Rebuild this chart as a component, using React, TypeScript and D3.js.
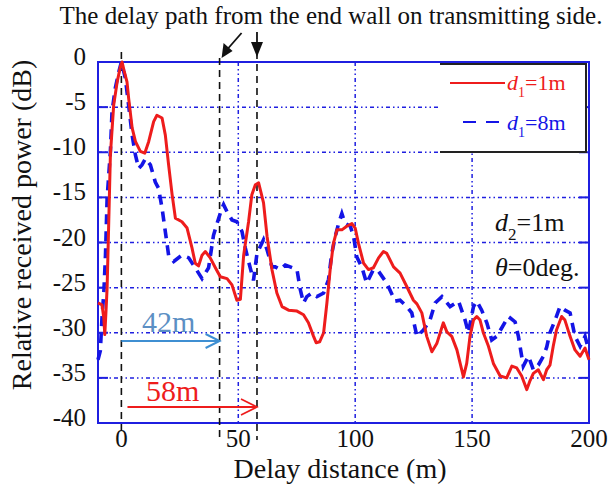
import React from "react";
import * as d3 from "d3";

// Delay profile, d1 = 1 m (delay distance in m, relative power in dB)
const delayD1: number[] = [
  -10, -8.3, -7.5, -7.1, -6.5, -6.1, -5.4, -4.7, -3.3, -1.8, -0.4, 0.3, 1.2, 2.4, 3.1, 4.6, 6, 8.1, 10,
  11.7, 13.8, 15.2, 17.4, 18.8, 20.2, 21.7, 23.1, 25.9, 28.1, 30.2, 31.6, 33, 34.5, 35.9, 38, 40.2,
  42.3, 45.2, 47.3, 49.4, 50.9, 52.3, 54.4, 55.8, 57.3, 58.7, 60.8, 62.3, 64.4, 66.5, 68.7, 71.5,
  75.1, 77.9, 80, 82.2, 83.3, 84.8, 86.5, 87.9, 89.3, 90.7, 92.2, 94.3, 96.4, 98.6, 100, 101.4,
  103.6, 105.7, 107.8, 110, 112.1, 113.5, 116.4, 119.2, 122.1, 124.9, 126.4, 128.5, 130.6, 132.8,
  134.9, 137.7, 139.2, 141.3, 143.5, 146.3, 147.7, 149.1, 150.6, 152, 153.4, 154.8, 157, 159.1,
  162, 164.8, 167, 169.1, 171.2, 173.4, 174.8, 176.2, 178.3, 180.5, 181.9, 183.3, 184.7, 186.1,
  188.3, 189.7, 191.9, 194, 196.2, 198.3, 200,
];
const powerD1: number[] = [
  -26.7, -26.9, -28.4, -30.2, -27.2, -25, -17.7, -10.3, -4.8, -2.2, -0.5, 0, -1, -2.2, -4, -7.3, -8.8,
  -9.9, -10.1, -8.8, -6.6, -5.9, -6.2, -8.1, -11.4, -14.7, -17.3, -17.7, -18.4, -20.6, -22.3, -22.6,
  -21.4, -21, -21.7, -22.8, -23.8, -24, -24.7, -26.4, -26.3, -21.4, -17.7, -14.7, -13.6, -13.4,
  -15.6, -19.3, -23, -25.6, -27.1, -27.5, -27.6, -28, -28.9, -30.4, -31.1, -31, -30, -26.7, -23,
  -20.1, -18.6, -18.6, -18.2, -17.9, -18.4, -20.1, -22.3, -23, -22.8, -21.7, -21, -21.2, -22.7,
  -23.4, -24.9, -26.4, -26.8, -27.8, -30.4, -32.1, -31.2, -28.9, -29.9, -30.4, -31.9, -34.9, -33.4,
  -30.4, -28.6, -28.2, -28.6, -30, -31.5, -33.4, -34.8, -35, -33.7, -33.9, -34.8, -36.3, -35.3,
  -34.5, -34.1, -35.2, -34.1, -33.6, -31.5, -29.7, -28.2, -28.6, -30.4, -31.9, -32.6, -31.7, -33,
];

// Delay profile, d1 = 8 m
const delayD8: number[] = [
  -10, -9, -8.3, -7.5, -6.8, -6.1, -4.7, -4, -2.6, -1.1, 0, 1.7, 3.1, 4.6, 6, 7.4, 8.8, 10.3, 12.4,
  14.5, 15.9, 17.4, 18.8, 20.2, 22.4, 25.9, 28.8, 31.6, 34.5, 37.3, 39.4, 40.9, 43, 43.7, 45.2,
  47.3, 49.4, 51.6, 53, 54.4, 56.5, 58, 60.8, 62.3, 64.4, 65.8, 68, 70.1, 72.2, 75.1, 76.5, 77.9,
  79.3, 81.5, 83.6, 86.5, 88.6, 90, 91.5, 92.9, 94.3, 95.7, 97.9, 99.3, 100.7, 102.8, 104.9, 107.8,
  110, 113.5, 117.1, 119.2, 122.1, 124.2, 126.4, 129.2, 132, 134.2, 137.1, 140.6, 144.2, 147,
  148.4, 150.6, 152, 154.1, 156.3, 158.4, 160.5, 162.6, 165.5, 168.4, 169.8, 171.9, 174.1, 176.2,
  178.3, 180.5, 181.9, 183.3, 185.5, 187.6, 189.7, 191.9, 194, 196.2, 198.3, 200,
];
const powerD8: number[] = [
  -33, -32, -28.4, -25.5, -21.4, -15.1, -9.9, -5.5, -2.9, -1.1, 0, -1.8, -4.8, -8.1, -10.3, -11.8,
  -11.4, -10.7, -11.4, -13.3, -14, -16.2, -18.8, -21.4, -22.1, -21.4, -21.7, -22.8, -24, -22.8,
  -19.2, -17.9, -16.2, -15.8, -16.6, -17.5, -17.7, -18.8, -20.6, -22.1, -24.2, -21.2, -19.7, -20.8,
  -22.7, -22.7, -23, -22.5, -22.7, -23, -25.2, -26.7, -26, -25.6, -26, -25.6, -24.1, -21.2, -19.3,
  -17.9, -16.8, -17.9, -18.2, -19.3, -21.6, -22.7, -24.5, -23, -23.2, -24.5, -26.5, -26.4, -27.1,
  -27.8, -30.4, -29.7, -28.6, -26.7, -26, -27.1, -26.5, -28.6, -30, -27.1, -26.5, -27.5, -28.9,
  -30.8, -30.4, -29.5, -28.2, -28.8, -30.4, -33.7, -32.6, -34.1, -33.6, -32.6, -31.6, -30, -28.6,
  -27.1, -27.5, -27.8, -30.4, -31.5, -30.4, -32,
];

const xTicks: number[] = [0, 50, 100, 150, 200];
const yTicks: number[] = [0, -5, -10, -15, -20, -25, -30, -35, -40];
const xGrid: number[] = [50, 100, 150];
const yGrid: number[] = [-5, -10, -15, -20, -25, -30, -35];
const wallPaths: number[] = [42, 58];

const W = 610;
const H = 491;
const plot = { left: 98, right: 589, top: 62, bottom: 423 };

const FRAME = "#1f1fe0";
const RED = "#ee1c1c";
const BLUE = "#1414e6";
const SKY = "#3f8fd2";
const SERIF = "Liberation Serif, Times New Roman, serif";
const font = { fontFamily: SERIF };

export default function App() {
  const x = d3.scaleLinear().domain([-10, 200]).range([plot.left, plot.right]);
  const y = d3.scaleLinear().domain([-40, 0]).range([plot.bottom, plot.top]);

  const toPts = (xs: number[], ys: number[]) => xs.map((v, i) => [v, ys[i]] as [number, number]);
  const line = d3
    .line<[number, number]>()
    .x((d) => x(d[0]))
    .y((d) => y(d[1]));

  const pathD1 = line(toPts(delayD1, powerD1)) || "";
  const pathD8 = line(toPts(delayD8, powerD8)) || "";

  const gridDash = "4 3 1.5 3 1.5 3";

  const x0 = x(0);
  const x42 = x(wallPaths[0]);
  const x58 = x(wallPaths[1]);

  const legend = { left: 440, right: 586, top: 64, bottom: 152 };

  return (
    <svg
      width={W}
      height={H}
      style={{ position: "absolute", left: 0, top: 0, background: "#fff", fontFamily: SERIF }}
    >
      <rect x={0} y={0} width={W} height={H} fill="#fff" />

      {/* grid */}
      {yGrid.map((v) => (
        <line
          key={"gy" + v}
          x1={plot.left}
          x2={plot.right}
          y1={y(v)}
          y2={y(v)}
          stroke={FRAME}
          strokeWidth={1.5}
          strokeDasharray={gridDash}
        />
      ))}
      {xGrid.map((v) => (
        <line
          key={"gx" + v}
          x1={x(v)}
          x2={x(v)}
          y1={plot.top}
          y2={plot.bottom}
          stroke={FRAME}
          strokeWidth={1.5}
          strokeDasharray={gridDash}
        />
      ))}

      {/* inward ticks on both sides */}
      {yGrid.map((v) => (
        <g key={"t" + v}>
          <line x1={plot.left} x2={plot.left + 10} y1={y(v)} y2={y(v)} stroke={FRAME} strokeWidth={2} />
          <line x1={plot.right - 10} x2={plot.right} y1={y(v)} y2={y(v)} stroke={FRAME} strokeWidth={2} />
        </g>
      ))}

      {/* frame */}
      <rect
        x={plot.left}
        y={plot.top}
        width={plot.right - plot.left}
        height={plot.bottom - plot.top}
        fill="none"
        stroke={FRAME}
        strokeWidth={2}
      />

      {/* delay markers */}
      <line x1={x0} x2={x0} y1={52} y2={432} stroke="#111" strokeWidth={1.6} strokeDasharray="7 5" />
      <line x1={x42} x2={x42} y1={58} y2={440} stroke="#111" strokeWidth={1.6} strokeDasharray="7 5" />
      <line x1={x58} x2={x58} y1={52} y2={440} stroke="#111" strokeWidth={1.6} strokeDasharray="7 5" />

      {/* curves */}
      <path d={pathD8} fill="none" stroke={BLUE} strokeWidth={3.6} strokeDasharray="10 7" />
      <path d={pathD1} fill="none" stroke={RED} strokeWidth={3} strokeLinejoin="round" />

      {/* legend */}
      <rect
        x={legend.left}
        y={legend.top}
        width={legend.right - legend.left}
        height={legend.bottom - legend.top}
        fill="#fff"
      />
      <path
        d={`M${legend.left},${legend.top}H${legend.right}V${legend.bottom}H${legend.left}`}
        fill="none"
        stroke="#222"
        strokeWidth={2}
      />
      <line x1={plot.right} x2={plot.right} y1={plot.top} y2={legend.bottom + 4} stroke={FRAME} strokeWidth={2} />
      <line x1={450} x2={505} y1={83} y2={83} stroke={RED} strokeWidth={2} />
      <line x1={463} x2={502} y1={122} y2={122} stroke={BLUE} strokeWidth={2.2} strokeDasharray="13 10" />
      <text x={507} y={90} fontSize={22} fill={RED} style={font}>
        <tspan fontStyle="italic">d</tspan>
        <tspan fontSize={14} dy={7}>1</tspan>
        <tspan dy={-7}>=1m</tspan>
      </text>
      <text x={507} y={130} fontSize={22} fill={BLUE} style={font}>
        <tspan fontStyle="italic">d</tspan>
        <tspan fontSize={14} dy={7}>1</tspan>
        <tspan dy={-7}>=8m</tspan>
      </text>

      {/* condition labels */}
      <text x={495} y={231} fontSize={26} fill="#111" style={font}>
        <tspan fontStyle="italic">d</tspan>
        <tspan fontSize={17} dy={9}>2</tspan>
        <tspan dy={-9}>=1m</tspan>
      </text>
      <text x={495} y={276} fontSize={26} fill="#111" style={font}>
        <tspan fontStyle="italic">θ</tspan>
        <tspan>=0deg.</tspan>
      </text>

      {/* path length arrows */}
      <line x1={x0} x2={x42} y1={341} y2={341} stroke={SKY} strokeWidth={2} />
      <path
        d={`M${x42 - 14},${334}L${x42},${341}L${x42 - 14},${348}`}
        fill="none"
        stroke={SKY}
        strokeWidth={2}
      />
      <text x={142} y={332} fontSize={30} fill="#5b8fc4" style={font}>
        42m
      </text>
      <line x1={x(2.6)} x2={x58} y1={407} y2={407} stroke={RED} strokeWidth={1.8} />
      <path
        d={`M${x58 - 16},${399}L${x58},${407}L${x58 - 16},${415}`}
        fill="none"
        stroke={RED}
        strokeWidth={1.6}
      />
      <text x={146} y={401} fontSize={30} fill={RED} style={font}>
        58m
      </text>

      {/* top annotation arrows */}
      <line x1={x58} x2={x58} y1={32} y2={46} stroke="#111" strokeWidth={1.8} />
      <path d={`M${x58 - 6},${42}L${x58 + 6},${42}L${x58},${57}Z`} fill="#111" />
      <line x1={x42 + 22} x2={x42 + 8} y1={33} y2={49} stroke="#111" strokeWidth={1.8} />
      <path d={`M${x42 + 2},${58}L${x42 + 4},${43}L${x42 + 13},${51}Z`} fill="#111" />
      <text x={331} y={24} fontSize={25} textAnchor="middle" fill="#111" style={font}>
        The delay path from the end wall on transmitting  side.
      </text>

      {/* axes labels */}
      {yTicks.map((v) => (
        <text key={"yl" + v} x={86} y={y(v) + 3} fontSize={25} textAnchor="end" fill="#111" style={font}>
          {String(v)}
        </text>
      ))}
      {xTicks.map((v) => (
        <text key={"xl" + v} x={x(v)} y={447} fontSize={25} textAnchor="middle" fill="#111" style={font}>
          {String(v)}
        </text>
      ))}
      <text x={340} y={478} fontSize={28} textAnchor="middle" fill="#111" style={font}>
        Delay distance (m)
      </text>
      <text
        transform={`translate(31,225) rotate(-90)`}
        fontSize={28}
        textAnchor="middle"
        fill="#111"
        style={font}
      >
        Relative received power (dB)
      </text>
    </svg>
  );
}
